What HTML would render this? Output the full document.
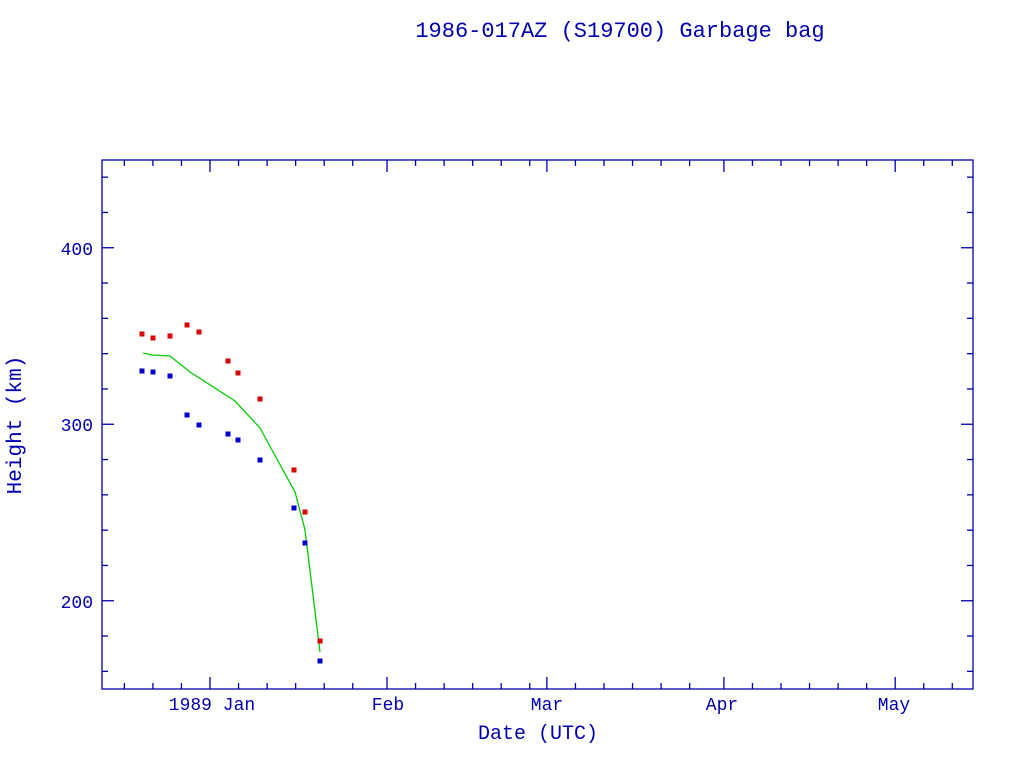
<!DOCTYPE html>
<html><head><style>html,body{margin:0;padding:0;background:#fff;}svg{display:block}</style></head>
<body>
<svg width="1024" height="768" xmlns="http://www.w3.org/2000/svg" font-family="'Liberation Mono', monospace" fill="#0000b0">
<rect width="1024" height="768" fill="#fff"/>
<text x="620" y="37" font-size="22" text-anchor="middle">1986-017AZ (S19700) Garbage bag</text>
<g stroke="#0000b0" stroke-width="1.3" fill="none">
<rect x="102" y="160" width="871" height="529"/>
<g id="ticks"></g>
</g>
<g font-size="18" text-anchor="end">
<text x="93" y="255">400</text>
<text x="93" y="431">300</text>
<text x="93" y="608">200</text>
</g>
<g font-size="18" text-anchor="middle">
<text x="212" y="710">1989 Jan</text>
<text x="388" y="710">Feb</text>
<text x="547" y="710">Mar</text>
<text x="722" y="710">Apr</text>
<text x="894" y="710">May</text>
</g>
<text x="538" y="739" font-size="20" text-anchor="middle">Date (UTC)</text>
<text transform="translate(21,425) rotate(-90)" font-size="21" text-anchor="middle">Height (km)</text>
<polyline fill="none" stroke="#00cc00" stroke-width="1.3" points="143,353 152,355 170,356 190,372 235,401 260,428 295,492 305,530 320,652"/>
<g id="pts"></g>
<script>
var ns="http://www.w3.org/2000/svg",t=document.getElementById("ticks");
function ln(x1,y1,x2,y2){var l=document.createElementNS(ns,"line");l.setAttribute("x1",x1);l.setAttribute("y1",y1);l.setAttribute("x2",x2);l.setAttribute("y2",y2);t.appendChild(l);}
for(var k=160;k<=440;k+=20){var y=689-(k-150)*1.765;var L=(k%100==0)?12:6;ln(102,y,102+L,y);ln(973,y,973-L,y);}
var d0=210,pd=5.71;
var months=[0,31,59,90,120];
var minor=[];
[-15,-10,-5].forEach(function(d){minor.push(d);});
months.forEach(function(m){for(var i=5;i<30;i+=5)minor.push(m+i);});
minor.forEach(function(d){var x=d0+d*pd;if(x>102&&x<973){ln(x,689,x,683);ln(x,160,x,166);}});
months.forEach(function(d){var x=d0+d*pd;ln(x,689,x,677);ln(x,160,x,172);});
var p=document.getElementById("pts");
function sq(x,y,c){var r=document.createElementNS(ns,"rect");r.setAttribute("x",x-2.5);r.setAttribute("y",y-2.5);r.setAttribute("width",5);r.setAttribute("height",5);r.setAttribute("fill",c);p.appendChild(r);}
[[142,334],[153,338],[170,336],[187,325],[199,332],[228,361],[238,373],[260,399],[294,470],[305,512],[320,641]].forEach(function(a){sq(a[0],a[1],"#dd0000");});
[[142,371],[153,372],[170,376],[187,415],[199,425],[228,434],[238,440],[260,460],[294,508],[305,543],[320,661]].forEach(function(a){sq(a[0],a[1],"#0000cc");});
</script>
</svg>
</body></html>
